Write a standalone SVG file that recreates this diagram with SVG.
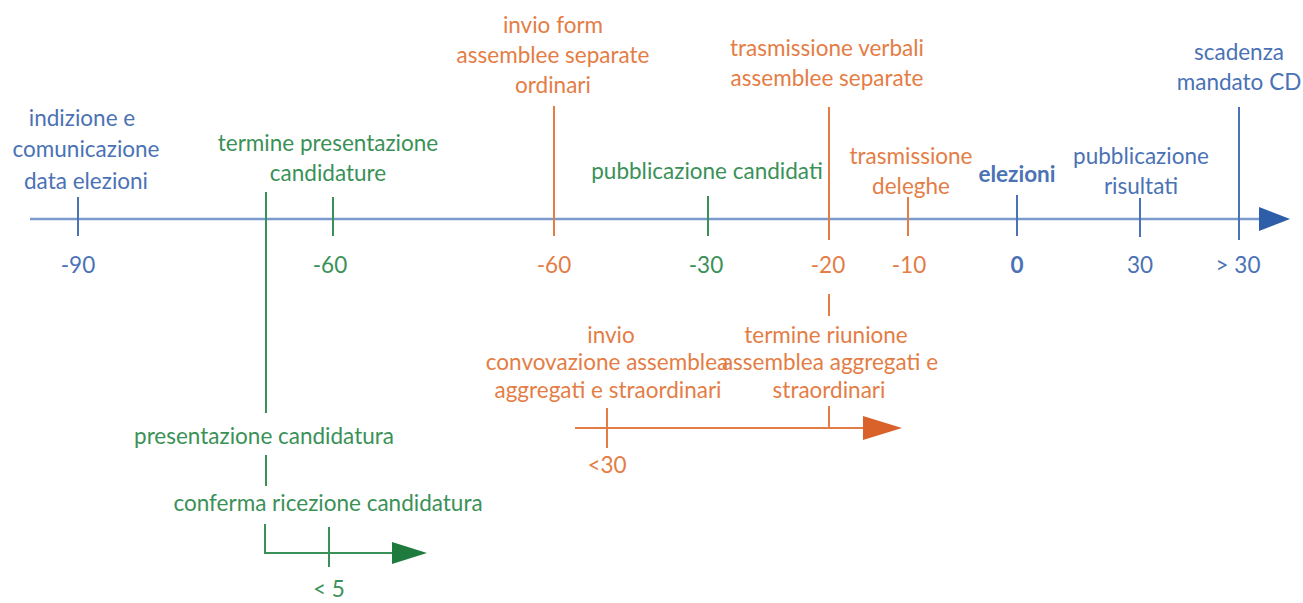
<svg xmlns="http://www.w3.org/2000/svg" width="1303" height="603" viewBox="0 0 1303 603">
<style>
text{font-family:Lato,"Noto Sans","Liberation Sans",sans-serif;font-size:22.5px;text-anchor:middle}
.b{fill:#4a72b5}.g{fill:#3a9157}.o{fill:#e47d45}
.bold{font-weight:bold}
.lb{stroke:#4a72b5;stroke-width:2;fill:none}
.lg{stroke:#3a9157;stroke-width:2;fill:none}
.lo{stroke:#e47d45;stroke-width:2;fill:none}
.ax{stroke:#7b9bcf;stroke-width:2.5;fill:none}
</style>
<rect width="1303" height="603" fill="#fff"/>
<g id="connectors">
<line class="ax" x1="30" y1="219" x2="1262" y2="219"/>
<polygon points="1259,207 1290,219 1259,231" fill="#2f5ea8"/>
<line class="lg" x1="266" y1="192" x2="266" y2="413"/>
<line class="lg" x1="266" y1="455" x2="266" y2="486"/>
<polyline class="lg" points="265,524 265,553 394,553"/>
<polygon points="392,542 427,553 392,564" fill="#1e7a3d"/>
<line class="lo" x1="829" y1="294" x2="829" y2="316"/>
<polyline class="lo" points="829,406 829,428"/>
<line class="lo" x1="575" y1="428" x2="865" y2="428"/>
<polygon points="863,416 902,428 863,440" fill="#d9622a"/>
</g>
<g id="n-90"><line class="lb" x1="78" y1="197" x2="78" y2="236"/>
<text class="b" x="82" y="126">indizione e</text><text class="b" x="86" y="157">comunicazione</text><text class="b" x="86" y="189">data elezioni</text>
<text class="b" x="78" y="273">-90</text></g>
<g id="n-60g"><line class="lg" x1="333" y1="197" x2="333" y2="236"/>
<text class="g" x="328" y="151">termine presentazione</text><text class="g" x="328" y="181">candidature</text>
<text class="g" x="330" y="273">-60</text></g>
<g id="n-60o"><line class="lo" x1="554" y1="106" x2="554" y2="236"/>
<text class="o" x="553" y="33">invio form</text><text class="o" x="553" y="63">assemblee separate</text><text class="o" x="553" y="93">ordinari</text>
<text class="o" x="554" y="273">-60</text></g>
<g id="n-30"><line class="lg" x1="708" y1="196" x2="708" y2="236"/>
<text class="g" x="707" y="179">pubblicazione candidati</text>
<text class="g" x="706" y="273">-30</text></g>
<g id="n-20"><line class="lo" x1="829" y1="107" x2="829" y2="240"/>
<text class="o" x="827" y="56">trasmissione verbali</text><text class="o" x="827" y="86">assemblee separate</text>
<text class="o" x="828" y="273">-20</text></g>
<g id="n-10"><line class="lo" x1="908" y1="197" x2="908" y2="236"/>
<text class="o" x="911" y="164">trasmissione</text><text class="o" x="911" y="194">deleghe</text>
<text class="o" x="909" y="273">-10</text></g>
<g id="n0"><line class="lb" x1="1017" y1="195" x2="1017" y2="236"/>
<text class="b bold" x="1017" y="182">elezioni</text>
<text class="b bold" x="1017" y="273">0</text></g>
<g id="n30"><line class="lb" x1="1140" y1="198" x2="1140" y2="237"/>
<text class="b" x="1141" y="164">pubblicazione</text><text class="b" x="1141" y="194">risultati</text>
<text class="b" x="1140" y="273">30</text></g>
<g id="n30p"><line class="lb" x1="1239" y1="107" x2="1239" y2="240"/>
<text class="b" x="1239" y="60">scadenza</text><text class="b" x="1239" y="90">mandato CD</text>
<text class="b" x="1238" y="273">&gt; 30</text></g>
<g id="n-presentazione"><text class="g" x="264" y="444">presentazione candidatura</text></g>
<g id="n-conferma"><text class="g" x="328" y="511">conferma ricezione candidatura</text>
<line class="lg" x1="329" y1="527" x2="329" y2="567"/>
<text class="g" x="329" y="597">&lt; 5</text></g>
<g id="n-invio"><text class="o" x="611" y="343">invio</text><text class="o" x="607" y="370">convovazione assemblea</text><text class="o" x="608" y="398">aggregati e straordinari</text>
<line class="lo" x1="607" y1="408" x2="607" y2="448"/>
<text class="o" x="607" y="473">&lt;30</text></g>
<g id="n-termine"><text class="o" x="826" y="343">termine riunione</text><text class="o" x="830" y="370">assemblea aggregati e</text><text class="o" x="829" y="398">straordinari</text></g>
</svg>
